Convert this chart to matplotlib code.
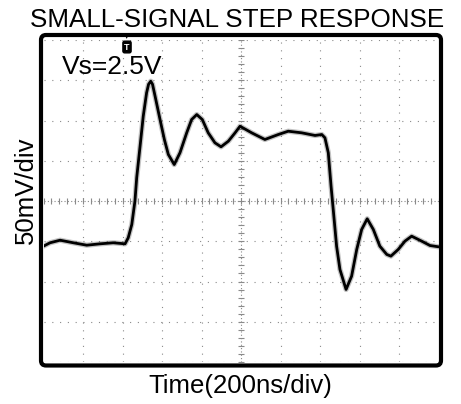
import numpy as np
import matplotlib
matplotlib.use("Agg")
import matplotlib.pyplot as plt
from matplotlib.patches import FancyBboxPatch

plt.rcParams['font.family'] = ['Liberation Sans', 'DejaVu Sans']

# waveform: time in ns, output in mV (offset from screen centre)
time_ns = [0, 33, 84, 151, 219, 286, 353, 413, 429, 447, 463, 472, 489, 505, 522,
           532, 543, 552, 565, 590, 612, 632, 662, 691, 725, 750, 776, 804, 834, 868,
           899, 936, 970, 995, 1054, 1121, 1189, 1239, 1307, 1375, 1409, 1425, 1442,
           1456, 1467, 1484, 1501, 1532, 1560, 1586, 1611, 1639, 1670, 1703, 1738,
           1759, 1796, 1830, 1864, 1915, 1957, 2000]
volt_mv = [-56.1, -51.9, -48.7, -51.9, -54.9, -53.2, -51.9, -53.2, -45.7, -29.2, 0,
           29.2, 68.1, 105.3, 134.4, 145, 148.8, 145, 130.2, 101.2, 76.4, 57.8, 45.3,
           59.9, 84.7, 101.2, 107.4, 101.2, 84.7, 72.3, 67.3, 74.3, 84.7, 92.9, 84.7,
           76.4, 82.6, 86.7, 84.7, 81.4, 82.6, 78.5, 59.9, 18.4, -10.6, -56.1, -85.1,
           -109.9, -93.4, -60.2, -35.4, -22.1, -35.4, -56.1, -66.4, -68.5, -60.2,
           -49.9, -43.7, -49.9, -55.3, -56.9]

ns_per_div = 200
mv_per_div = 50
n_xdiv = 10
n_ydiv = 8

fig = plt.figure(figsize=(4.61, 4.04), dpi=100)
ax = fig.add_axes([43.5 / 461, 1 - 362 / 404, 395 / 461, 322 / 404])
xmax = ns_per_div * n_xdiv
ymax = mv_per_div * n_ydiv / 2
ax.set_xlim(0, xmax)
ax.set_ylim(-ymax, ymax)
for s in ax.spines.values():
    s.set_visible(False)
ax.set_xticks([])
ax.set_yticks([])

# graticule
gc = '#8a8a8a'
for i in range(1, n_xdiv):
    if i != n_xdiv // 2:
        ax.axvline(i * ns_per_div, color=gc, lw=0.8, ls=(0, (1, 6)), zorder=1)
for j in range(0, n_ydiv + 1):
    if j != n_ydiv // 2:
        ax.axhline(-ymax + j * mv_per_div, color=gc, lw=0.8, ls=(0, (1, 6)), zorder=1)

# centre cross with minor ticks
ax.axvline(xmax / 2, color=gc, lw=0.8, ls=(0, (1, 2)), zorder=1)
ax.axhline(0, color=gc, lw=0.8, ls=(0, (1, 2)), zorder=1)
mx = np.arange(0, xmax + 1, ns_per_div / 5)
my = np.arange(-ymax, ymax + 1, mv_per_div / 5)
ax.plot(mx, np.zeros_like(mx), ls='none', marker='|', ms=5, mew=0.8, color=gc, zorder=1)
ax.plot(np.full_like(my, xmax / 2), my, ls='none', marker='_', ms=5, mew=0.8, color=gc, zorder=1)

# trace (noisy halo + core)
ax.plot(time_ns, volt_mv, color='#555555', lw=3.8, alpha=0.35, zorder=2,
        solid_joinstyle='round', solid_capstyle='round')
ax.plot(time_ns, volt_mv, color='black', lw=2.0, zorder=3,
        solid_joinstyle='round', solid_capstyle='round')

# thick rounded screen frame
frame = FancyBboxPatch((0.41, (404 - 365.5) / 100), 4.0, 3.305,
                       boxstyle='round,pad=0,rounding_size=0.05',
                       transform=fig.dpi_scale_trans, fill=False,
                       lw=3.0, ec='black', zorder=5)
fig.add_artist(frame)

# trigger marker
fig.text(127 / 461, 1 - 36 / 404, u'\u25BC', fontsize=5, ha='center', va='center',
         color='black', family='DejaVu Sans')
fig.text(127 / 461, 1 - 47 / 404, 'T', fontsize=6.5, fontweight='bold', ha='center',
         va='center', color='white',
         bbox=dict(boxstyle='round,pad=0.15,rounding_size=0.2', fc='black', ec='black'))

fig.text(62 / 461, 1 - 74 / 404, 'Vs=2.5V', fontsize=19, ha='left', va='baseline')
fig.text(237 / 461, 1 - 27 / 404, 'SMALL-SIGNAL STEP RESPONSE', fontsize=18.7,
         ha='center', va='baseline')
fig.text(240 / 461, 1 - 393 / 404, 'Time(200ns/div)', fontsize=18.5,
         ha='center', va='baseline')
fig.text(26 / 461, 1 - 190 / 404, '50mV/div', fontsize=18.5, rotation=90,
         ha='center', va='center')

fig.savefig('out.png', dpi=100)
